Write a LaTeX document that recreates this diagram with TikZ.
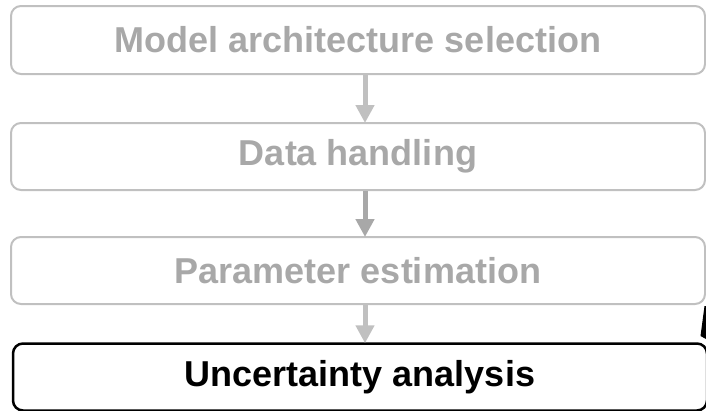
\documentclass[tikz,border=0pt]{standalone}
\usepackage{fontspec}
\setmainfont{Liberation Sans}
\usetikzlibrary{arrows.meta}
\definecolor{stepgray}{HTML}{C0C0C0}
\definecolor{labelgray}{HTML}{A8A8A8}
\tikzset{
  stepbox/.style={draw=stepgray, line width=2pt, rounded corners=10pt,
    minimum width=694pt, minimum height=67pt, inner sep=0pt,
    text=labelgray, font=\fontsize{36}{40}\selectfont\bfseries},
  activebox/.style={stepbox, draw=black, line width=2.5pt, text=black},
  flow/.style={draw=stepgray, line width=5pt,
    -{Triangle[width=18pt,length=18pt]}, shorten >=-1pt}
}
\begin{document}
\begin{tikzpicture}[x=1pt,y=-1pt]
  \useasboundingbox (0,0) rectangle (706,410);
  \clip (0,0) rectangle (706,410);
  % process steps
  \node[stepbox, minimum height=68pt] (arch) at (358,40) {Model architecture selection};
  \node[stepbox] (data) at (358,156.5) {Data handling};
  \node[stepbox] (param) at (358,270.5) {Parameter estimation};
  \node[activebox] (unc) at (360,377) {Uncertainty analysis};
  % flow between steps
  \coordinate (axis) at (365,0);
  \draw[flow] (arch.south -| axis) -- (data.north -| axis);
  \draw[flow, draw=labelgray] (data.south -| axis) -- (param.north -| axis);
  \draw[flow] (param.south -| axis) -- (unc.north -| axis);
  % incoming arrow tip at the right edge
  \fill[black] (704.5,306) -- (700.5,336) -- (706,339) -- (706,306) -- cycle;
\end{tikzpicture}
\end{document}
